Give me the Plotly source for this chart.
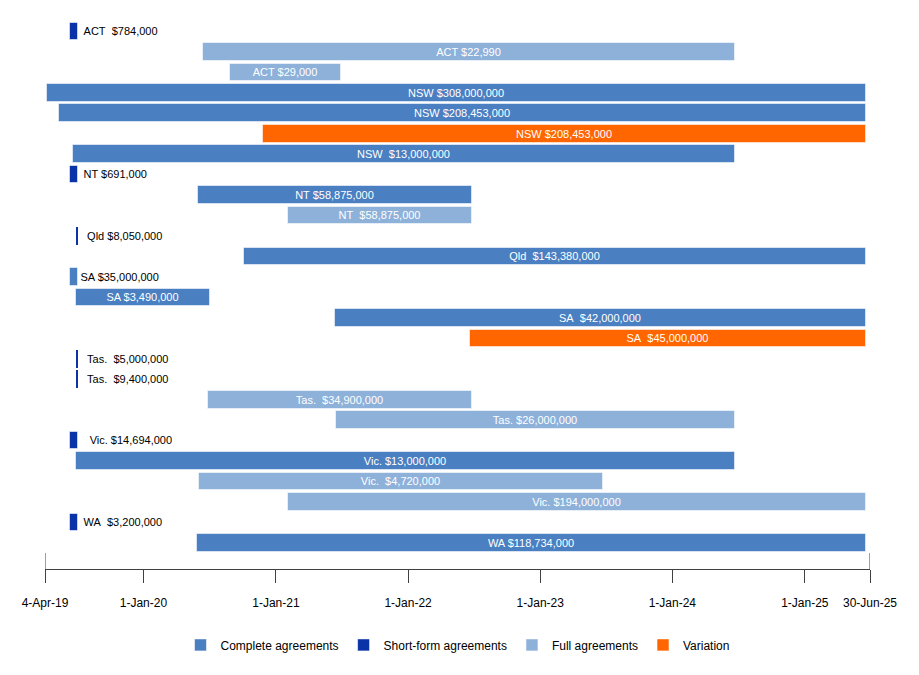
import pandas as pd
import plotly.graph_objects as go

# ---- data -------------------------------------------------------------
row_labels = [
    "\u00a0ACT\u00a0\u00a0$784,000", "ACT $22,990", "ACT $29,000",
    "NSW $308,000,000", "NSW $208,453,000", "NSW $208,453,000", "NSW\u00a0\u00a0$13,000,000",
    "\u00a0NT $691,000", "NT $58,875,000", "NT\u00a0\u00a0$58,875,000",
    "\u00a0\u00a0Qld $8,050,000", "Qld\u00a0\u00a0$143,380,000",
    "SA $35,000,000", "SA $3,490,000", "SA\u00a0\u00a0$42,000,000", "SA\u00a0\u00a0$45,000,000",
    "\u00a0\u00a0Tas.\u00a0\u00a0$5,000,000", "\u00a0\u00a0Tas.\u00a0\u00a0$9,400,000", "Tas.\u00a0\u00a0$34,900,000", "Tas. $26,000,000",
    "\u00a0\u00a0\u00a0Vic. $14,694,000", "Vic. $13,000,000", "Vic.\u00a0\u00a0$4,720,000", "Vic. $194,000,000",
    "\u00a0WA\u00a0\u00a0$3,200,000", "WA $118,734,000",
]
row_types = [
    "Short-form agreements", "Full agreements", "Full agreements",
    "Complete agreements", "Complete agreements", "Variation", "Complete agreements",
    "Short-form agreements", "Complete agreements", "Full agreements",
    "Short-form agreements", "Complete agreements",
    "Complete agreements", "Complete agreements", "Complete agreements", "Variation",
    "Short-form agreements", "Short-form agreements", "Full agreements", "Full agreements",
    "Short-form agreements", "Complete agreements", "Full agreements", "Full agreements",
    "Short-form agreements", "Complete agreements",
]
start_dates = [
    "2019-06-11", "2020-06-13", "2020-08-28",
    "2019-04-10", "2019-05-12", "2020-11-27", "2019-06-21",
    "2019-06-11", "2020-05-31", "2021-02-03",
    "2019-07-01", "2020-10-06",
    "2019-06-11", "2019-06-30", "2021-06-14", "2022-06-21",
    "2019-07-01", "2019-07-01", "2020-06-27", "2021-06-15",
    "2019-06-11", "2019-06-30", "2020-06-03", "2021-02-03",
    "2019-06-11", "2020-05-28",
]
end_dates = [
    "2019-07-05", "2024-06-22", "2021-06-29",
    "2025-06-19", "2025-06-19", "2025-06-19", "2024-06-22",
    "2019-07-05", "2022-06-26", "2022-06-26",
    "2019-07-04", "2025-06-19",
    "2019-07-05", "2020-07-03", "2025-06-19", "2025-06-19",
    "2019-07-04", "2019-07-04", "2022-06-26", "2024-06-22",
    "2019-07-05", "2024-06-22", "2023-06-24", "2025-06-19",
    "2019-07-05", "2025-06-19",
]
label_outside = [
    True, False, False,
    False, False, False, False,
    True, False, False,
    True, False,
    True, False, False, False,
    True, True, False, False,
    True, False, False, False,
    True, False,
]

series_names = ["Complete agreements", "Short-form agreements", "Full agreements", "Variation"]
series_colors = ["#4a7fc1", "#0a33a8", "#8eb1da", "#ff6600"]

tick_dates = ["2019-04-04", "2020-01-01", "2021-01-01", "2022-01-01",
              "2023-01-01", "2024-01-01", "2025-01-01", "2025-06-30"]
tick_labels = ["4-Apr-19", "1-Jan-20", "1-Jan-21", "1-Jan-22",
               "1-Jan-23", "1-Jan-24", "1-Jan-25", "30-Jun-25"]

# ---- figure -----------------------------------------------------------
df = pd.DataFrame({
    "row": list(range(len(row_labels))),
    "label": row_labels,
    "type": row_types,
    "start": pd.to_datetime(start_dates),
    "end": pd.to_datetime(end_dates),
    "outside": label_outside,
})
df["dur"] = (df["end"] - df["start"]).dt.total_seconds() * 1000
df["thin"] = df["dur"] < 5 * 86400000

fig = go.Figure()
for name, color in zip(series_names, series_colors):
    d = df[df["type"] == name]
    fig.add_trace(go.Bar(
        name=name,
        orientation="h",
        y=d["row"],
        x=d["dur"],
        base=d["start"].dt.strftime("%Y-%m-%d"),
        width=0.86,
        marker=dict(color=color,
                    line=dict(color="rgba(255,255,255,0.55)",
                              width=[0 if t else 1 for t in d["thin"]])),
        text=d["label"],
        textposition=["outside" if o else "inside" for o in d["outside"]],
        insidetextanchor="middle",
        insidetextfont=dict(color="white", size=11, family="Liberation Sans, Arial"),
        outsidetextfont=dict(color="black", size=11, family="Liberation Sans, Arial"),
        constraintext="none",
        cliponaxis=False,
        hoverinfo="skip",
    ))

shapes = []
for dt in (tick_dates[0], tick_dates[-1]):
    shapes.append(dict(type="line", xref="x", yref="paper", x0=dt, x1=dt,
                       y0=0, y1=0.029, line=dict(color="#404040", width=1)))

# page body has an 8px margin: shift the figure up/left accordingly
fig.update_layout(
    width=911, height=667,
    margin=dict(l=37, r=49, t=7, b=106),
    plot_bgcolor="white", paper_bgcolor="white",
    barmode="overlay",
    bargap=0,
    font=dict(family="Liberation Sans, Arial", size=12, color="black"),
    showlegend=True,
    legend=dict(orientation="h", x=0.5, xanchor="center", y=-0.137, yanchor="middle",
                font=dict(size=12), traceorder="normal"),
    shapes=shapes,
)
fig.update_xaxes(
    type="date",
    range=[tick_dates[0], tick_dates[-1]],
    tickvals=tick_dates, ticktext=tick_labels,
    showgrid=False, zeroline=False,
    showline=True, linecolor="#404040", linewidth=1,
    ticks="outside", ticklen=13, tickcolor="#404040", tickwidth=1,
    ticklabelstandoff=10,
    tickfont=dict(size=12, color="black"),
)
fig.update_yaxes(visible=False, range=[26.27, -0.8])

fig.write_html("out.html")
